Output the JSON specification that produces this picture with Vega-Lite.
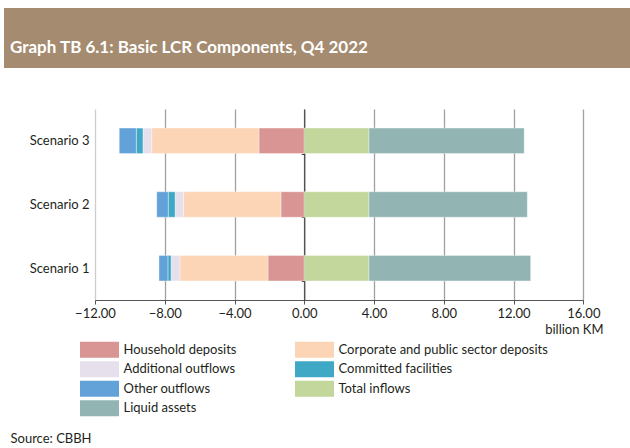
{
  "$schema": "https://vega.github.io/schema/vega-lite/v6.json",
  "background": "#FFFFFF",
  "padding": {"left": 4, "top": 8, "right": 0, "bottom": 0},
  "config": {
    "font": "Lato",
    "view": {"stroke": null},
    "concat": {"spacing": 0}
  },
  "spacing": 35,
  "vconcat": [
    {
      "width": 626,
      "height": 60,
      "view": {"fill": "#A58B70", "stroke": null},
      "title": {
        "text": "Graph TB 6.1: Basic LCR Components, Q4 2022",
        "anchor": "start",
        "orient": "top",
        "offset": 0,
        "baseline": "alphabetic",
        "dx": 6,
        "dy": 62,
        "font": "Lato",
        "fontSize": 17,
        "fontWeight": "bold",
        "color": "#FFFFFF"
      },
      "data": {"values": [{"t": ""}]},
      "mark": {"type": "text"},
      "encoding": {"text": {"field": "t"}}
    },
    {
      "width": 626,
      "height": 191,
      "view": {"fill": "#FFFFFF", "stroke": null},
      "data": {
        "values": [
          {"scenario": "Scenario 3", "component": "Household deposits", "k": 1, "v": -2.60},
          {"scenario": "Scenario 3", "component": "Corporate and public sector deposits", "k": 2, "v": -6.15},
          {"scenario": "Scenario 3", "component": "Additional outflows", "k": 3, "v": -0.50},
          {"scenario": "Scenario 3", "component": "Committed facilities", "k": 4, "v": -0.38},
          {"scenario": "Scenario 3", "component": "Other outflows", "k": 5, "v": -0.98},
          {"scenario": "Scenario 3", "component": "Total inflows", "k": 6, "v": 3.71},
          {"scenario": "Scenario 3", "component": "Liquid assets", "k": 7, "v": 8.90},
          {"scenario": "Scenario 2", "component": "Household deposits", "k": 1, "v": -1.34},
          {"scenario": "Scenario 2", "component": "Corporate and public sector deposits", "k": 2, "v": -5.58},
          {"scenario": "Scenario 2", "component": "Additional outflows", "k": 3, "v": -0.49},
          {"scenario": "Scenario 2", "component": "Committed facilities", "k": 4, "v": -0.39},
          {"scenario": "Scenario 2", "component": "Other outflows", "k": 5, "v": -0.66},
          {"scenario": "Scenario 2", "component": "Total inflows", "k": 6, "v": 3.71},
          {"scenario": "Scenario 2", "component": "Liquid assets", "k": 7, "v": 9.08},
          {"scenario": "Scenario 1", "component": "Household deposits", "k": 1, "v": -2.08},
          {"scenario": "Scenario 1", "component": "Corporate and public sector deposits", "k": 2, "v": -5.05},
          {"scenario": "Scenario 1", "component": "Additional outflows", "k": 3, "v": -0.51},
          {"scenario": "Scenario 1", "component": "Committed facilities", "k": 4, "v": -0.18},
          {"scenario": "Scenario 1", "component": "Other outflows", "k": 5, "v": -0.51},
          {"scenario": "Scenario 1", "component": "Total inflows", "k": 6, "v": 3.71},
          {"scenario": "Scenario 1", "component": "Liquid assets", "k": 7, "v": 9.27}
        ]
      },
      "mark": {"type": "bar", "stroke": "#FFFFFF", "strokeWidth": 0.5, "strokeOpacity": 0.7},
      "encoding": {
        "y": {
          "field": "scenario",
          "type": "nominal",
          "sort": ["Scenario 3", "Scenario 2", "Scenario 1"],
          "scale": {"paddingInner": 0.6, "paddingOuter": 0.3},
          "axis": {
            "orient": "left",
            "offset": -300.3,
            "domain": true,
            "domainColor": "#333333",
            "domainWidth": 1,
            "ticks": true,
            "tickBand": "extent",
            "tickSize": 3,
            "tickColor": "#333333",
            "labelPadding": 212.3,
            "labelFont": "Lato",
            "labelFontSize": 13,
            "labelColor": "#231F20",
            "grid": false,
            "title": "Source: CBBH",
            "titleAngle": 0,
            "titleX": -294.3,
            "titleY": 333,
            "titleAlign": "left",
            "titleBaseline": "alphabetic",
            "titleFont": "Lato",
            "titleFontSize": 13,
            "titleFontWeight": "normal",
            "titleColor": "#231F20"
          }
        },
        "x": {
          "field": "v",
          "type": "quantitative",
          "stack": "zero",
          "scale": {"domain": [-12, 16], "range": [91, 579.3], "nice": false, "zero": false},
          "axis": {
            "orient": "bottom",
            "values": [-12, -8, -4, 0, 4, 8, 12, 16],
            "format": ".2f",
            "labelFlush": false,
            "labelOverlap": false,
            "domain": true,
            "domainColor": "#555555",
            "ticks": true,
            "tickSize": 4,
            "tickColor": "#555555",
            "labelPadding": 3,
            "labelFont": "Lato",
            "labelFontSize": 13,
            "labelColor": "#231F20",
            "grid": true,
            "gridColor": {"condition": {"test": "datum.value === -12", "value": "#CCCCCC"}, "value": "#A0A0A0"},
            "gridWidth": 1.3,
            "title": "billion KM",
            "titleX": 599,
            "titleY": 33,
            "titleAlign": "right",
            "titleBaseline": "alphabetic",
            "titleFont": "Lato",
            "titleFontSize": 13,
            "titleFontWeight": "normal",
            "titleColor": "#231F20"
          }
        },
        "order": {"field": "k", "type": "quantitative"},
        "color": {
          "field": "component",
          "type": "nominal",
          "scale": {
            "domain": ["Household deposits", "Corporate and public sector deposits", "Additional outflows", "Committed facilities", "Other outflows", "Total inflows", "Liquid assets"],
            "range": ["#D99594", "#FBD5B5", "#E5E0EC", "#3FA9C5", "#63A2D8", "#C3D69B", "#92B5B4"]
          },
          "legend": {
            "orient": "none",
            "direction": "horizontal",
            "legendX": 85.5,
            "legendY": 331.7,
            "title": null,
            "columns": 2,
            "columnPadding": 58,
            "rowPadding": 1.5,
            "padding": 0,
            "symbolType": "M-1.95,-0.8H1.95V0.8H-1.95Z",
            "symbolSize": 400,
            "symbolStrokeWidth": 0,
            "symbolOpacity": 1,
            "labelOffset": 14,
            "labelFont": "Lato",
            "labelFontSize": 13,
            "labelColor": "#231F20",
            "labelLimit": 400
          }
        }
      }
    }
  ]
}
